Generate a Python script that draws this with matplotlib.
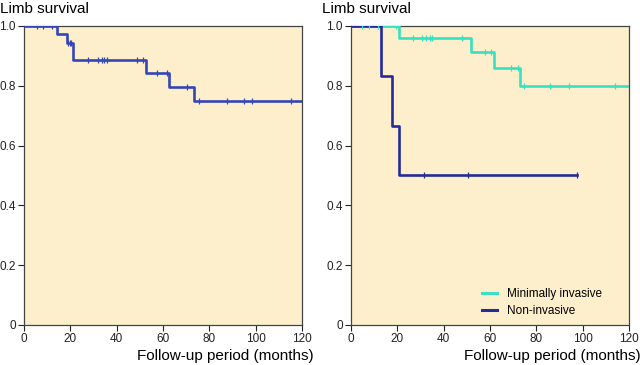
import numpy as np
import matplotlib
matplotlib.use("Agg")
import matplotlib.pyplot as plt

plt.rcParams['font.family'] = ['Liberation Sans', 'DejaVu Sans']

# Left panel: all limbs
all_event_t = [0, 14.1, 18.4, 21.3, 52.5, 62.7, 73.4]
all_surv = [1.0, 0.972, 0.944, 0.886, 0.844, 0.797, 0.748]
all_end = 120
all_cens = [5.5, 8.1, 12, 18.9, 19.9, 20.3, 27.5, 31.8, 33.5, 34.7, 35.7,
            48.6, 51.2, 57.5, 61.6, 70.2, 75.5, 87.5, 95.1, 98.3, 115.1]

# Right panel: minimally invasive
mi_event_t = [0, 20.7, 51.7, 61.8, 72.9]
mi_surv = [1.0, 0.961, 0.913, 0.859, 0.80]
mi_end = 120
mi_cens = [4.6, 7.8, 11.8, 19.3, 26.8, 30.8, 32.5, 34.0, 35.1, 47.8, 57.8,
           60.6, 69.0, 71.9, 74.5, 86.0, 94.2, 114.1]

# Right panel: non-invasive
ni_event_t = [0, 13.1, 17.6, 20.7]
ni_surv = [1.0, 0.833, 0.667, 0.5]
ni_end = 97.5
ni_cens = [31.5, 50.3, 97.5]

xticks = [0, 20, 40, 60, 80, 100, 120]
yticks = [0, 0.2, 0.4, 0.6, 0.8, 1.0]
ytick_labels = ["0", "0.2", "0.4", "0.6", "0.8", "1.0"]

BG = "#FDEFCB"
C_ALL = "#3445B8"
C_MI = "#38E0C0"
C_NI = "#252A9C"


def km(ax, t, s, end, cens, color, label=None):
    tt = list(t) + [end]
    ss = list(s) + [s[-1]]
    ax.step(tt, ss, where='post', color=color, lw=1.9, label=label, zorder=3)
    idx = np.searchsorted(np.array(t), np.array(cens), side='right') - 1
    cy = np.array(s)[idx]
    ax.plot(cens, cy, linestyle='none', marker='|', ms=5, mew=0.9, color=color, zorder=4)


fig = plt.figure(figsize=(6.4, 3.65), dpi=100)
axL = fig.add_axes([0.0375, 0.1096, 0.4345, 0.8192])
axR = fig.add_axes([0.5485, 0.1096, 0.4345, 0.8192])

km(axL, all_event_t, all_surv, all_end, all_cens, C_ALL)
km(axR, mi_event_t, mi_surv, mi_end, mi_cens, C_MI, "Minimally invasive")
km(axR, ni_event_t, ni_surv, ni_end, ni_cens, C_NI, "Non-invasive")

for ax in (axL, axR):
    ax.set_facecolor(BG)
    ax.set_xlim(0, 120)
    ax.set_ylim(0, 1.0)
    ax.set_xticks(xticks)
    ax.set_yticks(yticks)
    ax.set_yticklabels(ytick_labels)
    ax.tick_params(direction='out', length=4, width=0.8, labelsize=8.5, pad=2, colors='#222222')
    for sp in ax.spines.values():
        sp.set_color('#444444')
        sp.set_linewidth(0.9)
    ax.set_xlabel("Follow-up period (months)", fontsize=11, ha='right', x=1.04, labelpad=3)

fig.text(0.0, 0.995, "Limb survival", fontsize=11, ha='left', va='top')
fig.text(0.503, 0.995, "Limb survival", fontsize=11, ha='left', va='top')

leg = axR.legend(loc='lower right', bbox_to_anchor=(0.94, -0.01), frameon=False,
                 fontsize=8.5, handlelength=1.3, handletextpad=0.8, labelspacing=0.45)
for h in leg.get_lines():
    h.set_linewidth(2.2)

fig.savefig("out.png", dpi=100)
